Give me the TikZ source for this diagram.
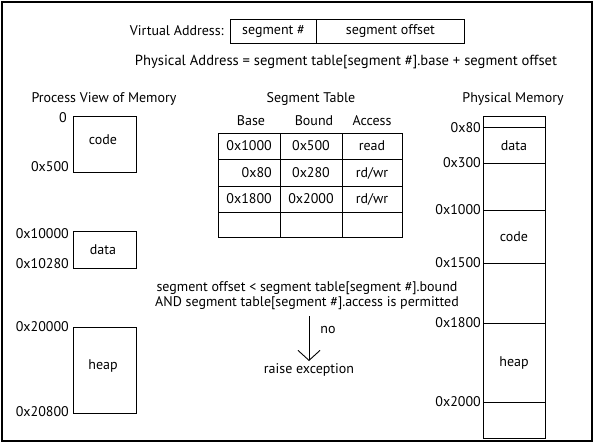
\documentclass[tikz,border=0pt]{standalone}
\usepackage{fontspec}
\setmainfont{PT Sans}
\usetikzlibrary{arrows.meta}
\begin{document}
\begin{tikzpicture}[x=1pt,y=-1pt,
  lbl/.style={inner sep=0pt, font=\fontsize{14}{16}\selectfont},
  box/.style={draw, line width=0.9pt},
  rl/.style={lbl, anchor=east}]
\useasboundingbox (0,0) rectangle (595,444);
\draw[line width=1.6pt] (2,2) rectangle (592,441);
% Virtual address
\node[rl] (va) at (224,31) {Virtual Address:};
\node[box, minimum width=86pt, minimum height=24pt, inner sep=0pt, anchor=north west, font=\fontsize{14}{16}\selectfont] (segn) at (230,19) {segment \#};
\node[box, minimum width=148pt, minimum height=24pt, inner sep=0pt, anchor=north west, font=\fontsize{14}{16}\selectfont] (segoff) at (316,19) {segment offset};
\node[lbl, font=\fontsize{14.6}{16}\selectfont] (pa) at (346,62) {Physical Address = segment table[segment \#].base + segment offset};
% Titles
\node[lbl] (pv) at (104,99) {Process View of Memory};
\node[lbl] (st) at (311,99) {Segment Table};
\node[lbl] (pm) at (513,99) {Physical Memory};
% Process view
\draw[box] (73,116) rectangle (136,172);
\node[lbl] (pcode) at (103,140) {code};
\node[rl] (p0) at (67,118) {0};
\node[rl] (p500) at (69,167) {0x500};
\draw[box] (73,231) rectangle (136,268);
\node[lbl] (pdata) at (103,250) {data};
\node[rl] (p10000) at (69,234) {0x10000};
\node[rl] (p10280) at (69,264) {0x10280};
\draw[box] (73,327) rectangle (136,413);
\node[lbl] (pheap) at (103,366) {heap};
\node[rl] (p20000) at (69,327) {0x20000};
\node[rl] (p20800) at (69,412) {0x20800};
% Segment table
\node[lbl] (hb) at (251,121) {Base};
\node[lbl] (hbd) at (314,121) {Bound};
\node[lbl] (ha) at (372,121) {Access};
\draw[box] (218,133) rectangle (402,237);
\foreach \yy in {159,186,212} \draw[box] (218,\yy) -- (402,\yy);
\draw[box] (280,133) -- (280,237);
\draw[box] (342,133) -- (342,237);
\node[rl] (b1) at (272,146) {0x1000};
\node[rl] (b2) at (272,173) {0x80};
\node[rl] (b3) at (272,199) {0x1800};
\node[lbl] (d1) at (311,146) {0x500};
\node[lbl] (d2) at (311,173) {0x280};
\node[lbl] (d3) at (311,199) {0x2000};
\node[lbl] (a1) at (372,146) {read};
\node[lbl] (a2) at (372,173) {rd/wr};
\node[lbl] (a3) at (372,199) {rd/wr};
% Physical memory
\draw[box] (483,116) rectangle (545,438);
\foreach \yy in {127,163,210,263,323,402} \draw[box] (483,\yy) -- (545,\yy);
\node[rl] (m80) at (481,128) {0x80};
\node[rl] (m300) at (481,163) {0x300};
\node[rl] (m1000) at (481,210) {0x1000};
\node[rl] (m1500) at (481,263) {0x1500};
\node[rl] (m1800) at (481,323) {0x1800};
\node[rl] (m2000) at (481,402) {0x2000};
\node[lbl] (mdata) at (514,146) {data};
\node[lbl] (mcode) at (514,237) {code};
\node[lbl] (mheap) at (514,363) {heap};
% Condition
\node[lbl, align=center, font=\fontsize{14}{15}\selectfont] (cond) at (307,296) {segment offset < segment table[segment \#].bound\\AND segment table[segment \#].access is permitted};
\node[lbl] (rex) at (309,370) {raise exception};
\draw[line width=0.9pt, -{Straight Barb[length=10pt,width=22pt,line width=0.9pt]}] (309,316) -- (309,361);
\node[lbl] (no) at (328,330) {no};
\end{tikzpicture}
\end{document}
